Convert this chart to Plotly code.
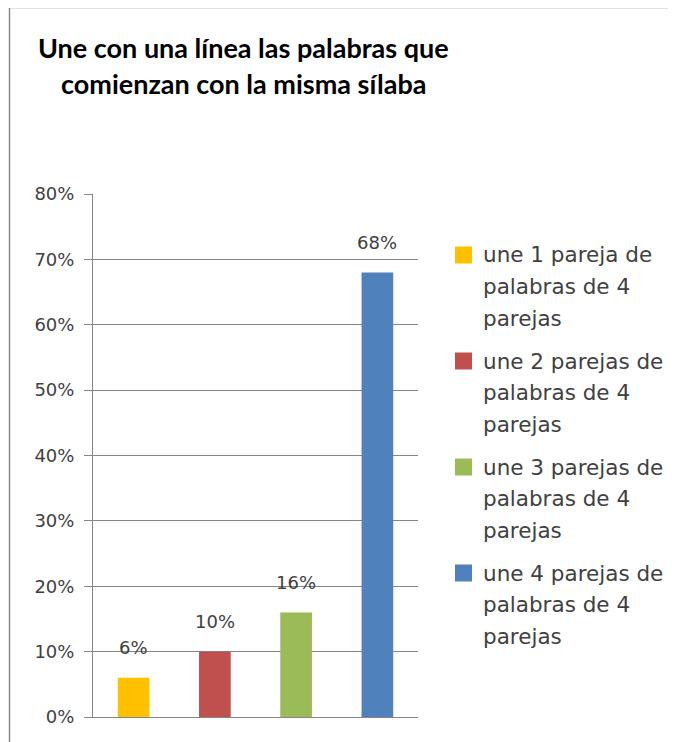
import plotly.graph_objects as go

# ---- data ----
series_names = [
    "une 1 pareja de palabras de 4 parejas",
    "une 2 parejas de palabras de 4 parejas",
    "une 3 parejas de palabras de 4 parejas",
    "une 4 parejas de palabras de 4 parejas",
]
legend_lines = [
    ["une 1 pareja de", "palabras de 4", "parejas"],
    ["une 2 parejas de", "palabras de 4", "parejas"],
    ["une 3 parejas de", "palabras de 4", "parejas"],
    ["une 4 parejas de", "palabras de 4", "parejas"],
]
values = [0.06, 0.10, 0.16, 0.68]
value_labels = ["6%", "10%", "16%", "68%"]
colors = ["#FFC000", "#C0504D", "#9BBB59", "#4F81BD"]
title_lines = ["Une con una línea las palabras que", "comienzan con la misma sílaba"]
y_ticks = [0, 0.1, 0.2, 0.3, 0.4, 0.5, 0.6, 0.7, 0.8]

# page is rendered with an 8px body margin; work in page pixels and convert
OFF = 8
PAGE_W, PAGE_H = 676, 742
W, H = PAGE_W - OFF, PAGE_H - OFF
PL, PR, PT, PB = 93, 418, 194, 717  # plot area in page pixels
ML, MR, MT, MB = PL - OFF, PAGE_W - PR, PT - OFF, PAGE_H - PB
PW, PH = PR - PL, PB - PT

GRID = "#868686"
TXT = "#404040"
FONT = "DejaVu Sans"


def px(x):
    return (x - PL) / PW


def py(y):
    return (PB - y) / PH


fig = go.Figure()
for name, v, c in zip(series_names, values, colors):
    fig.add_trace(go.Bar(x=[name], y=[v], name=name, marker=dict(color=c, line=dict(width=0)),
                         width=0.39, showlegend=False))

annotations = []
# data labels
for name, v, lab in zip(series_names, values, value_labels):
    annotations.append(dict(x=name, y=v, xref="x", yref="y", text=lab, showarrow=False,
                            yanchor="middle", yshift=30, font=dict(family=FONT, size=18, color=TXT)))

# title
for i, t in enumerate(title_lines):
    annotations.append(dict(x=px(243), y=py(47 + 36 * i), xref="paper", yref="paper", text="<b>" + t + "</b>",
                            showarrow=False, xanchor="center", yanchor="middle",
                            font=dict(family="Lato", size=27, color="#000000")))

shapes = []
# outer chart border
shapes.append(dict(type="rect", xref="paper", yref="paper", x0=px(9.5), x1=px(PAGE_W + 20),
                   y0=py(PAGE_H + 20), y1=py(7.5),
                   line=dict(color="#8C8C8C", width=1.5), fillcolor="rgba(0,0,0,0)", layer="below"))

# legend (manual, to match line spacing)
group_top = [255, 361, 467, 573]
for gi, (lines, c) in enumerate(zip(legend_lines, colors)):
    y0 = group_top[gi]
    shapes.append(dict(type="rect", xref="paper", yref="paper", x0=px(455), x1=px(472),
                       y0=py(y0 + 8.5), y1=py(y0 - 8.5), fillcolor=c, line=dict(width=0)))
    for li, line in enumerate(lines):
        annotations.append(dict(x=px(481), y=py(y0 + 31.7 * li), xref="paper", yref="paper", text=line,
                                showarrow=False, xanchor="left", yanchor="middle",
                                font=dict(family=FONT, size=21.5, color=TXT)))

fig.update_layout(
    width=W, height=H,
    margin=dict(l=ML, r=MR, t=MT, b=MB),
    paper_bgcolor="white", plot_bgcolor="white",
    barmode="overlay",
    showlegend=False,
    annotations=annotations,
    shapes=shapes,
    xaxis=dict(showticklabels=False, showgrid=False, zeroline=False, showline=True,
               linecolor=GRID, linewidth=1, ticks=""),
    yaxis=dict(range=[0, 0.8], tickvals=y_ticks, tickformat=".0%", showgrid=True, gridcolor=GRID,
               gridwidth=1, zeroline=False, showline=True, linecolor=GRID, linewidth=1,
               ticks="outside", ticklen=8, tickcolor=GRID, tickwidth=1,
               ticklabelstandoff=6,
               tickfont=dict(family=FONT, size=18, color=TXT)),
)

fig.write_html("out.html")
